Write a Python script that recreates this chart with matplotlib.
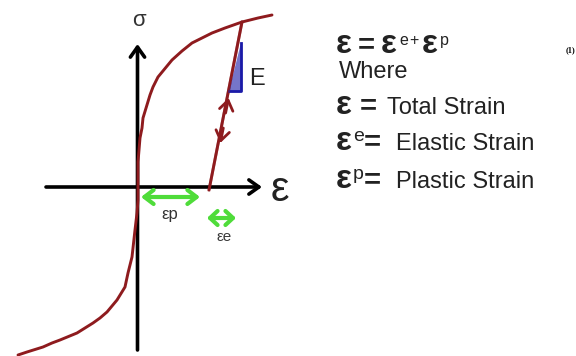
import matplotlib
matplotlib.use("Agg")
import matplotlib.pyplot as plt
from matplotlib.patches import Polygon

# ---- data (diagram coordinates, pixel-like units, y downwards) ----
curve_x = [18, 27, 43, 52, 60, 77, 93, 100, 107, 117, 125, 128, 132, 135, 137, 138,
           138, 138, 140, 142, 143, 150, 153, 158, 172, 182, 192, 212, 225, 242, 258, 272]
curve_y = [355, 352, 347, 343, 340, 333, 323, 318, 312, 300, 287, 273, 257, 230, 213, 200,
           187, 162, 138, 128, 118, 95, 87, 77, 60, 51, 43, 33, 28, 22, 18, 15]
unload_x = [242, 209]
unload_y = [22, 190]
tri_x = [241, 241, 229]
tri_y = [43, 91, 91]

RED = "#8e1b1e"
GREEN = "#4fdc3a"
BLUE = "#1a1aa8"
TXT = "#222222"

fig = plt.figure(figsize=(5.76, 3.56), dpi=100)
ax = fig.add_axes([0, 0, 1, 1])
ax.set_xlim(0, 576)
ax.set_ylim(356, 0)
ax.axis("off")

# axes arrows
AX_ARROW = dict(arrowstyle="->,head_length=0.45,head_width=0.32", color="black",
                lw=2.6, mutation_scale=16, shrinkA=0, shrinkB=0)
ax.annotate("", xy=(137.5, 44), xytext=(137.5, 350), arrowprops=AX_ARROW)
ax.annotate("", xy=(262, 187), xytext=(46, 187), arrowprops=AX_ARROW)

# stress-strain curve
ax.plot(curve_x, curve_y, color=RED, lw=2.1, solid_capstyle="round",
        solid_joinstyle="round", zorder=3)
ax.plot(unload_x, unload_y, color=RED, lw=2.1, solid_capstyle="round", zorder=3)

# blue triangle
tri = Polygon(list(zip(tri_x, tri_y)), closed=True, facecolor=BLUE, alpha=0.6,
              edgecolor="none", zorder=4)
ax.add_patch(tri)
ax.plot(tri_x, tri_y, color=BLUE, lw=2.0, zorder=5)
ax.plot(unload_x, unload_y, color=RED, lw=2.1, alpha=0.45, zorder=6)
ax.text(249, 85, "E", fontsize=17, color=TXT, family="Liberation Sans", va="baseline")

# arrows on unloading line
RA = dict(arrowstyle="->,head_length=0.5,head_width=0.35", color=RED, lw=2.0,
          mutation_scale=14, shrinkA=0, shrinkB=0)
ax.annotate("", xy=(228.6, 98), xytext=(225.6, 113), arrowprops=RA, zorder=4)
ax.annotate("", xy=(220.3, 143), xytext=(223.3, 128), arrowprops=RA, zorder=4)

# green strain arrows
GA = dict(arrowstyle="<->,head_length=0.55,head_width=0.42", color=GREEN, lw=3.0,
          mutation_scale=12, shrinkA=0, shrinkB=0)
ax.annotate("", xy=(141, 197), xytext=(200, 197), arrowprops=GA)
GA2 = dict(GA, arrowstyle="<->,head_length=0.45,head_width=0.42")
ax.annotate("", xy=(207, 218), xytext=(236, 218), arrowprops=GA2)
ax.text(170, 215, "εp", fontsize=12, color="#333333", family="Liberation Sans",
        ha="center", va="center")
ax.text(224, 237, "εe", fontsize=11, color="#3a3a3a", family="Liberation Sans",
        ha="center", va="center")

# axis labels
ax.text(139, 21, "σ", fontsize=16, color="#333333", family="Liberation Sans",
        ha="center", va="center")
ax.text(280, 190, "ε", fontsize=30, color=TXT, family="Liberation Sans",
        ha="center", va="center")

# right-hand equations
F = "Liberation Sans"
EPS = dict(fontsize=24, color=TXT, family=F, va="baseline", fontweight="bold")
SUP = dict(fontsize=14, color=TXT, family=F, va="baseline")
SUP1 = dict(fontsize=11.5, color=TXT, family=F, va="baseline")
BODY = dict(fontsize=17, color=TXT, family=F, va="baseline")
EQ = dict(fontsize=21, color=TXT, family=F, va="baseline", fontweight="bold")

# line 1
ax.text(336, 53, "ε", **EPS)
ax.text(358, 53, "=", **EQ)
ax.text(381, 53, "ε", **EPS)
ax.text(399, 45, "e", **SUP1)
ax.text(409, 45, "+", **SUP1)
ax.text(422, 53, "ε", **EPS)
ax.text(440, 45, "p", **SUP1)
ax.text(566, 52, "(1)", fontsize=6, color="black", family="Liberation Serif",
        fontweight="bold", va="baseline")
# where
ax.text(339, 78, "Where", **BODY)
# line 3
ax.text(336, 114, "ε", **EPS)
ax.text(360, 114, "=", **EQ)
ax.text(387, 114, "Total Strain", **BODY)
# line 4
ax.text(336, 150, "ε", **EPS)
ax.text(353, 141, "e", **SUP)
ax.text(364, 150, "=", **EQ)
ax.text(396, 150, "Elastic Strain", **BODY)
# line 5
ax.text(336, 188, "ε", **EPS)
ax.text(353, 179, "p", **SUP)
ax.text(364, 188, "=", **EQ)
ax.text(396, 188, "Plastic Strain", **BODY)

fig.savefig("out.png", dpi=100)
